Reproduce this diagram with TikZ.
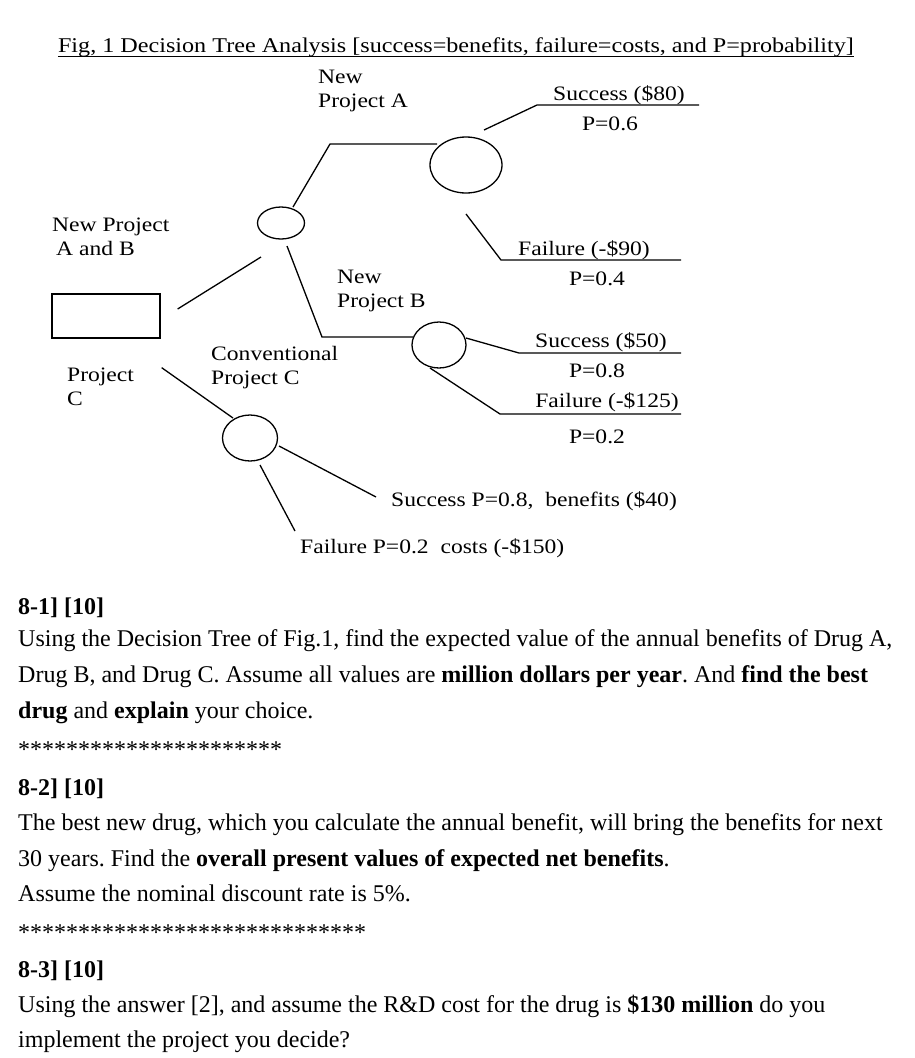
\documentclass[tikz,border=0pt]{standalone}
\usepackage{fontspec}
\setmainfont{Liberation Serif}
\newfontfamily\treefont[FakeStretch=1.15]{Liberation Serif}
\usetikzlibrary{shapes.geometric}
\usetikzlibrary{positioning}
\frenchspacing

\begin{document}
\begin{tikzpicture}[
    x=1pt, y=-1pt,
    % Define node styles
    chance/.style={draw, ellipse, inner sep=0pt, line width=1.3pt},
    decision/.style={draw, rectangle, inner sep=0pt, line width=1.3pt},
    branch/.style={line width=1.3pt},
    treelabel/.style={font=\treefont\fontsize{20.5}{24}\selectfont, inner sep=0pt, align=left, anchor=north west},
    valuelabel/.style={font=\treefont\fontsize{20.5}{24}\selectfont, inner sep=0pt, anchor=base},
    qline/.style={font=\fontsize{24}{28}\selectfont, inner sep=0pt, anchor=base west}
]

% Fix the page size
\useasboundingbox (0,0) rectangle (914,1058);

% Title
\node[font=\treefont\fontsize{21}{24}\selectfont, inner sep=0pt, anchor=base] (title) at (456,52)
    {Fig, 1 Decision Tree Analysis [success=benefits, failure=costs, and P=probability]};
\draw[line width=1pt] ([yshift=-4pt]title.base west) -- ([yshift=-4pt]title.base east);

% Decision and chance nodes
\node[decision, minimum width=108pt, minimum height=44pt] (root) at (106,316) {};
\node[chance, minimum width=47pt, minimum height=32pt] (chanceAB) at (281,223) {};
\node[chance, minimum width=72pt, minimum height=56pt] (chanceA) at (466,165) {};
\node[chance, minimum width=54pt, minimum height=46pt] (chanceB) at (439,345) {};
\node[chance, minimum width=55pt, minimum height=46pt] (chanceC) at (250,438) {};

% Bends and free ends of the branches
\coordinate (bendA) at (330,144);
\coordinate (bendB) at (322,337);
\coordinate (bendAS) at (537,105);
\coordinate (endAS) at (699,105);
\coordinate (bendAF) at (501,260);
\coordinate (endAF) at (681,260);
\coordinate (bendBS) at (519,353);
\coordinate (endBS) at (681,353);
\coordinate (bendBF) at (500,414);
\coordinate (endBF) at (681,414);
\coordinate (endCS) at (376,497);
\coordinate (endCF) at (295,531);

% Branches
\draw[branch] ([shift={(17,-7)}]root.east) -- ([shift={(-20,34)}]chanceAB.center);
\draw[branch] ([shift={(12,-16)}]chanceAB.center) -- (bendA) -- ([shift={(-29,-21)}]chanceA.center);
\draw[branch] ([shift={(6,23)}]chanceAB.center) -- (bendB) -- ([shift={(-26,-8)}]chanceB.center);
\draw[branch] ([shift={(1,29)}]root.south east) -- ([shift={(-17,-20)}]chanceC.center);
\draw[branch] ([shift={(18,-35)}]chanceA.center) -- (bendAS) -- (endAS);
\draw[branch] ([shift={(0,49)}]chanceA.center) -- (bendAF) -- (endAF);
\draw[branch] ([shift={(27,-7)}]chanceB.center) -- (bendBS) -- (endBS);
\draw[branch] ([shift={(-9,23)}]chanceB.center) -- (bendBF) -- (endBF);
\draw[branch] ([shift={(29,8)}]chanceC.center) -- (endCS);
\draw[branch] ([shift={(10,27)}]chanceC.center) -- (endCF);

% Project labels
\node[treelabel] (labelA) at (318,70) {New\\Project A};
\node[treelabel] (labelAB) at (52,218) {New Project\\\hspace{4pt}A and B};
\node[treelabel] (labelRootC) at (67,368) {Project\\C};
\node[treelabel] (labelB) at (337,270) {New\\Project B};
\node[treelabel] (labelC) at (211,346) {Conventional\\Project C};

% Outcome labels
\node[valuelabel] (succA) at (619,100) {Success (\$80)};
\node[valuelabel] (probAS) at (610,130) {P=0.6};
\node[valuelabel] (failA) at (584,255) {Failure (-\$90)};
\node[valuelabel] (probAF) at (597,285) {P=0.4};
\node[valuelabel] (succB) at (601,347) {Success (\$50)};
\node[valuelabel] (probBS) at (597,377) {P=0.8};
\node[valuelabel] (failB) at (607,407) {Failure (-\$125)};
\node[valuelabel] (probBF) at (597,443) {P=0.2};
\node[valuelabel, anchor=base west] (succC) at (391,506) {Success P=0.8,\ \ benefits (\$40)};
\node[valuelabel, anchor=base west] (failC) at (300,553) {Failure P=0.2\ \ costs (-\$150)};

% Questions
\node[qline] (q1head) at (18,614) {\textbf{8-1] [10]}};
\node[qline] (q1a) at (18,646) {Using the Decision Tree of Fig.1, find the expected value of the annual benefits of Drug A,};
\node[qline] (q1b) at (18,682) {Drug B, and Drug C. Assume all values are \textbf{million dollars per year}. And \textbf{find the best}};
\node[qline] (q1c) at (18,718) {\textbf{drug} and \textbf{explain} your choice.};
\node[qline] (stars1) at (18,757) {**********************};
\node[qline] (q2head) at (18,795) {\textbf{8-2] [10]}};
\node[qline] (q2a) at (18,830) {The best new drug, which you calculate the annual benefit, will bring the benefits for next};
\node[qline] (q2b) at (18,866) {30 years. Find the \textbf{overall present values of expected net benefits}.};
\node[qline] (q2c) at (18,901) {Assume the nominal discount rate is 5\%.};
\node[qline] (stars2) at (18,940) {*****************************};
\node[qline] (q3head) at (18,977) {\textbf{8-3] [10]}};
\node[qline] (q3a) at (18,1012) {Using the answer [2], and assume the R\&D cost for the drug is \textbf{\$130 million} do you};
\node[qline] (q3b) at (18,1047) {implement the project you decide?};

\end{tikzpicture}
\end{document}
